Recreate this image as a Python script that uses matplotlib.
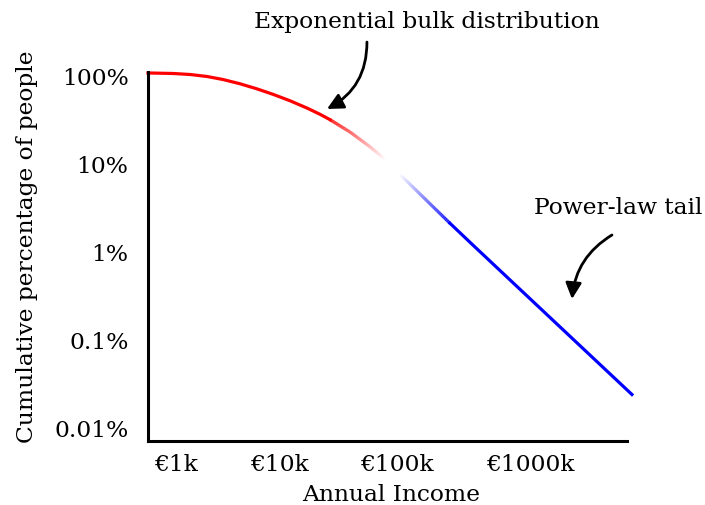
import numpy as np
import matplotlib
matplotlib.use("Agg")
import matplotlib.pyplot as plt
from matplotlib.collections import LineCollection

plt.rcParams['font.family'] = ['DejaVu Serif']
plt.rcParams['font.size'] = 16.8

# curve: x = log10(income in k€), y = share of people in %
income_log = [-0.272, -0.029, 0.136, 0.301, 0.456, 0.621, 0.786, 0.942, 1.107, 1.272,
              1.398, 1.495, 1.689, 1.883, 1.981, 2.272, 2.466, 2.660, 2.883, 4.427]
share_pct = [108.2, 106.8, 104.0, 98.7, 91.2, 81.6, 71.4, 61.9, 52.3, 43.2,
             36.7, 31.9, 23.1, 15.7, 12.6, 5.89, 3.53, 2.12, 1.198, 0.0240]

xtick_pos = [0, 1, 2.146, 3.437]
xtick_labels = ["€1k", "€10k", "€100k", "€1000k"]
ytick_vals = [100, 10, 1, 0.1, 0.01]
ytick_labels = ["100%", "10%", "1%", "0.1%", "0.01%"]

fig = plt.figure(figsize=(7.05, 5.06), dpi=100)
ax = fig.add_axes([148/705, 64/506, 479/705, 369/506])
ax.set_yscale('log')
ax.set_xlim(-0.272, 4.379)
ax.set_ylim(0.00711, 111.0)

# solid red bulk and solid blue tail
i_red, i_blue = 11, 17
ax.plot(income_log[:i_red+1], share_pct[:i_red+1], color='red', lw=2.3,
        solid_joinstyle='round', clip_on=False)
ax.plot(income_log[i_blue:], share_pct[i_blue:], color='blue', lw=2.3,
        solid_joinstyle='round', clip_on=False)

# fading middle part: red -> white -> blue
xs, ys = [], []
for i in range(i_red, i_blue):
    t = np.linspace(0, 1, 25, endpoint=False)
    xs.extend(income_log[i] + t*(income_log[i+1]-income_log[i]))
    ly0, ly1 = np.log10(share_pct[i]), np.log10(share_pct[i+1])
    ys.extend(10**(ly0 + t*(ly1-ly0)))
xs.append(income_log[i_blue]); ys.append(share_pct[i_blue])
xs = np.array(xs); ys = np.array(ys)
pts = np.column_stack([xs, ys]).reshape(-1, 1, 2)
segs = np.concatenate([pts[:-1], pts[1:]], axis=1)
mid = (xs[:-1] + xs[1:]) / 2
cols = []
for m in mid:
    if m < 2.08:
        a = np.clip((2.03 - m) / (2.03 - 1.495), 0, 1)
        cols.append((1, 0, 0, a))
    else:
        a = np.clip((m - 2.17) / (2.66 - 2.17), 0, 1)
        cols.append((0, 0, 1, a))
ax.add_collection(LineCollection(segs, colors=cols, linewidths=2.3, capstyle='butt'))

for s in ['top', 'right']:
    ax.spines[s].set_visible(False)
for s in ['left', 'bottom']:
    ax.spines[s].set_linewidth(2.2)
    ax.spines[s].set_color('black')

ax.set_xticks(xtick_pos)
ax.set_xticklabels(xtick_labels)
ax.set_yticks(ytick_vals)
ax.set_yticklabels(ytick_labels)
ax.yaxis.set_minor_locator(matplotlib.ticker.NullLocator())
ax.tick_params(axis='x', length=0, pad=8.5)
ax.tick_params(axis='y', length=0, pad=14)

ax.set_xlabel("Annual Income")
ax.xaxis.set_label_coords(0.5073, -0.1138)
ax.set_ylabel("Cumulative percentage of people")
ax.yaxis.set_label_coords(-0.2296, 0.5298)

fig.text(427/705, 1 - 22/506, "Exponential bulk distribution", ha='center', va='center')
fig.text(618/705, 1 - 208/506, "Power-law tail", ha='center', va='center')

arrow = dict(arrowstyle='-|>', lw=2, color='black', mutation_scale=24,
             shrinkA=0, shrinkB=0)
ax.annotate("", xy=(1.466, 42.2), xytext=(1.854, 243), annotation_clip=False,
            arrowprops=dict(connectionstyle='arc3,rad=-0.3', **arrow))
ax.annotate("", xy=(3.845, 0.292), xytext=(4.233, 1.56), annotation_clip=False,
            arrowprops=dict(connectionstyle='arc3,rad=0.25', **arrow))

fig.savefig("out.png", dpi=100)
